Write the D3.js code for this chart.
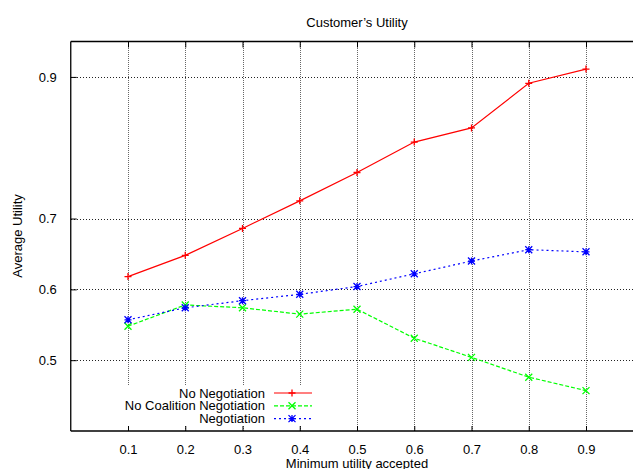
<!DOCTYPE html>
<html>
<head>
<meta charset="utf-8">
<script src="https://cdn.jsdelivr.net/npm/d3@7"></script>
<style>
  body { margin: 0; background: #fff; }
  text { font-family: "Liberation Sans", Arial, sans-serif; }
</style>
</head>
<body>
<div id="chart"></div>
<script>
// data
const xValues = [0.1, 0.2, 0.3, 0.4, 0.5, 0.6, 0.7, 0.8, 0.9];
const noNegotiation = [0.618, 0.648, 0.686, 0.725, 0.765, 0.808, 0.828, 0.891, 0.911];
const noCoalitionNegotiation = [0.548, 0.578, 0.574, 0.565, 0.572, 0.531, 0.504, 0.476, 0.457];
const negotiation = [0.557, 0.574, 0.584, 0.593, 0.604, 0.622, 0.640, 0.656, 0.653];
const xTicks = [0.1, 0.2, 0.3, 0.4, 0.5, 0.6, 0.7, 0.8, 0.9];
const yTicks = [0.5, 0.6, 0.7, 0.9];
const seriesNames = ["No Negotiation", "No Coalition Negotiation", "Negotiation"];

const W = 633, H = 469;
const margin = { top: 41.5, left: 70.75 };
const plotW = 572.5;   // x range 0..1, right border falls outside the window
const plotH = 389.5;

const svg = d3.select("#chart").append("svg")
    .attr("width", W)
    .attr("height", H);

const x = d3.scaleLinear().domain([0, 1]).range([margin.left, margin.left + plotW]);
const y = d3.scaleLinear().domain([0.4, 0.95]).range([margin.top + plotH, margin.top]);

const bottom = margin.top + plotH;

// grid
svg.append("g").selectAll("line")
    .data(xTicks)
    .enter().append("line")
    .attr("x1", d => Math.round(x(d)) + 0.5)
    .attr("x2", d => Math.round(x(d)) + 0.5)
    .attr("y1", margin.top)
    .attr("y2", bottom)
    .attr("stroke", "#666")
    .attr("shape-rendering", "crispEdges")
    .attr("stroke-dasharray", "1,1");

svg.append("g").selectAll("line")
    .data(yTicks)
    .enter().append("line")
    .attr("x1", margin.left)
    .attr("x2", W)
    .attr("y1", d => Math.round(y(d)) + 0.5)
    .attr("y2", d => Math.round(y(d)) + 0.5)
    .attr("stroke", "#222")
    .attr("shape-rendering", "crispEdges")
    .attr("stroke-dasharray", "1,2");

// legend area hides the grid under it
svg.append("rect")
    .attr("x", 115).attr("y", 386)
    .attr("width", 205).attr("height", 39)
    .attr("fill", "#fff");

// axes (ticks point inward like gnuplot)
svg.append("g")
    .attr("transform", `translate(0,${bottom})`)
    .call(d3.axisBottom(x).tickValues(xTicks).tickSize(-5).tickPadding(14).tickFormat(d3.format(".1f")))
    .call(g => g.select(".domain").attr("d", `M${margin.left},0H${W}`));

svg.append("g")
    .attr("transform", `translate(0,${margin.top})`)
    .call(d3.axisTop(x).tickValues(xTicks).tickSize(-6).tickFormat(""))
    .call(g => g.select(".domain").attr("d", `M${margin.left},0H${W}`));

svg.append("g")
    .attr("transform", `translate(${margin.left},0)`)
    .call(d3.axisLeft(y).tickValues(yTicks).tickSize(-6).tickPadding(14).tickFormat(d3.format(".1f")))
    .call(g => g.select(".domain").attr("d", `M0,${margin.top}V${bottom}`));

svg.selectAll(".tick text")
    .style("font-size", "13px")
    .attr("fill", "#000");
svg.selectAll(".domain").attr("stroke", "#000").attr("stroke-width", 1.3);

// series
const series = [
    { name: seriesNames[0], values: noNegotiation, color: "#ff0000", dash: null, marker: "plus" },
    { name: seriesNames[1], values: noCoalitionNegotiation, color: "#00ff00", dash: "4,2", marker: "cross" },
    { name: seriesNames[2], values: negotiation, color: "#0000ff", dash: "2,3", marker: "star" }
];

const line = d3.line()
    .x((d, i) => x(xValues[i]))
    .y(d => y(d));

function drawMarker(g, type, cx, cy, color) {
    const s = 3.5;
    let p = "";
    if (type === "plus" || type === "star") p += `M${cx - s},${cy}H${cx + s}M${cx},${cy - s}V${cy + s}`;
    if (type === "cross" || type === "star") p += `M${cx - s},${cy - s}L${cx + s},${cy + s}M${cx - s},${cy + s}L${cx + s},${cy - s}`;
    g.append("path").attr("d", p).attr("stroke", color).attr("stroke-width", 1.3).attr("fill", "none");
}

series.forEach(s => {
    svg.append("path")
        .datum(s.values)
        .attr("d", line)
        .attr("fill", "none")
        .attr("stroke", s.color)
        .attr("stroke-width", 1.2)
        .attr("stroke-dasharray", s.dash);
    const mg = svg.append("g");
    s.values.forEach((v, i) => drawMarker(mg, s.marker, x(xValues[i]), y(v), s.color));
});

// legend
const legend = svg.append("g");
series.forEach((s, i) => {
    const ly = 393 + i * 12.8;
    legend.append("text")
        .attr("x", 265)
        .attr("y", ly)
        .attr("dy", "0.35em")
        .attr("text-anchor", "end")
        .style("font-size", "13px")
        .text(s.name);
    legend.append("line")
        .attr("x1", 274).attr("x2", 312)
        .attr("y1", ly).attr("y2", ly)
        .attr("stroke", s.color)
        .attr("stroke-width", 1.2)
        .attr("stroke-dasharray", s.dash);
    drawMarker(legend, s.marker, 292, ly, s.color);
});

// titles
svg.append("text")
    .attr("x", 357)
    .attr("y", 27)
    .attr("text-anchor", "middle")
    .style("font-size", "13px")
    .text("Customer\u2019s Utility");

svg.append("text")
    .attr("x", 357)
    .attr("y", 468)
    .attr("text-anchor", "middle")
    .style("font-size", "13px")
    .text("Minimum utility accepted");

svg.append("text")
    .attr("transform", "rotate(-90)")
    .attr("x", -236)
    .attr("y", 22)
    .attr("text-anchor", "middle")
    .style("font-size", "13px")
    .text("Average Utility");
</script>
</body>
</html>
